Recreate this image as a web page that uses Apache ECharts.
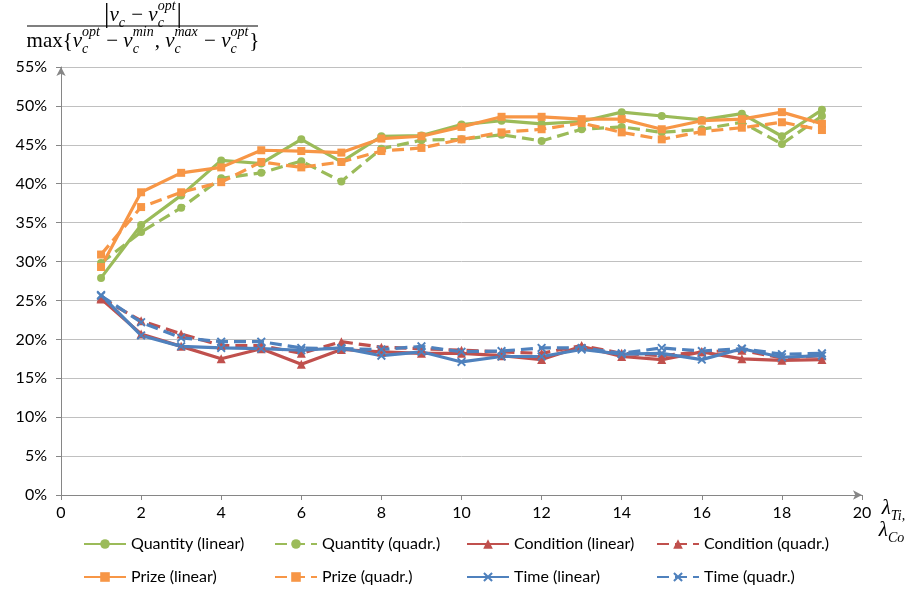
<!DOCTYPE html>
<html>
<head>
<meta charset="utf-8">
<script src="https://cdn.jsdelivr.net/npm/echarts@6/dist/echarts.min.js"></script>
<style>
  html, body { margin: 0; padding: 0; background: #fff; }
  #chart { width: 910px; height: 594px; }
</style>
</head>
<body>
<div id="chart"></div>
<script>
// lambda values on the x axis
let lambdas = [1, 2, 3, 4, 5, 6, 7, 8, 9, 10, 11, 12, 13, 14, 15, 16, 17, 18, 19];

// values in percent
let quantityLinear = [27.9, 34.7, 38.5, 43.0, 42.6, 45.7, 42.8, 46.1, 46.2, 47.6, 48.1, 47.7, 48.0, 49.2, 48.7, 48.2, 49.0, 46.1, 49.5];
let quantityQuadr  = [29.8, 33.8, 36.9, 40.7, 41.4, 42.9, 40.3, 44.5, 45.6, 45.7, 46.3, 45.5, 47.0, 47.3, 46.6, 47.0, 47.9, 45.1, 48.7];
let conditionLinear = [25.2, 20.7, 19.1, 17.5, 18.8, 16.8, 18.7, 18.4, 18.2, 18.2, 17.9, 17.4, 19.1, 17.8, 17.4, 18.4, 17.5, 17.3, 17.4];
let conditionQuadr  = [25.3, 22.4, 20.7, 19.2, 19.2, 18.2, 19.7, 19.0, 18.8, 18.6, 18.4, 18.2, 19.2, 18.2, 17.9, 18.4, 18.6, 17.6, 17.9];
let prizeLinear = [29.3, 38.9, 41.4, 42.1, 44.3, 44.2, 44.0, 45.8, 46.1, 47.3, 48.6, 48.6, 48.3, 48.3, 47.0, 48.1, 48.3, 49.2, 47.7];
let prizeQuadr  = [30.9, 37.0, 38.9, 40.2, 42.8, 42.1, 42.8, 44.2, 44.6, 45.7, 46.6, 47.0, 47.8, 46.6, 45.7, 46.7, 47.2, 47.9, 46.9];
let timeLinear = [25.7, 20.5, 19.1, 18.9, 18.8, 18.6, 18.9, 17.9, 18.4, 17.1, 17.8, 17.8, 18.7, 18.1, 18.2, 17.4, 18.8, 17.7, 17.9];
let timeQuadr  = [25.6, 22.2, 20.2, 19.7, 19.7, 18.9, 18.8, 18.7, 19.1, 18.4, 18.5, 18.9, 18.9, 18.2, 18.9, 18.5, 18.8, 18.1, 18.2];

const GREEN = '#9BBB59';
const RED = '#C0504D';
const ORANGE = '#F79646';
const BLUE = '#4F81BD';
const CROSS = 'path://M0,1.5 L1.5,0 L5,3.5 L8.5,0 L10,1.5 L6.5,5 L10,8.5 L8.5,10 L5,6.5 L1.5,10 L0,8.5 L3.5,5 Z';

function pairs(values) {
    return lambdas.map((x, i) => [x, values[i]]);
}

function makeSeries(name, values, color, symbol, dashed) {
    return {
        name: name,
        type: 'line',
        data: pairs(values),
        symbol: symbol,
        symbolSize: symbol === CROSS ? 9 : (symbol === 'triangle' ? 9 : 8),
        showSymbol: true,
        animation: false,
        itemStyle: { color: color },
        lineStyle: { color: color, width: 3.2, type: dashed ? [12, 6] : 'solid' },
        emphasis: { disabled: true }
    };
}

// small helper to set formula text (base glyphs plus stacked super/subscripts)
let measureCtx = document.createElement('canvas').getContext('2d');
const SERIF = '"Liberation Serif", "DejaVu Serif", serif';
function textWidth(t, font) {
    measureCtx.font = font;
    return measureCtx.measureText(t).width;
}
function formula(tokens, cx, cy, baseSize, scriptSize) {
    let baseItalic = 'italic ' + baseSize + 'px ' + SERIF;
    let baseNormal = baseSize + 'px ' + SERIF;
    let scriptFont = 'italic ' + scriptSize + 'px ' + SERIF;
    let items = [];
    let x = 0;
    for (let tk of tokens) {
        if (tk[0] === 'i' || tk[0] === 'n') {
            let font = tk[0] === 'i' ? baseItalic : baseNormal;
            if (tk[2]) font = tk[2] + 'px ' + SERIF;
            items.push({ t: tk[1], x: x, dy: 0, font: font });
            x += textWidth(tk[1], font);
        } else {
            // tk = ['s', sup, sub]
            let w = 0;
            if (tk[1]) {
                items.push({ t: tk[1], x: x, dy: -baseSize * 0.42, font: scriptFont });
                w = Math.max(w, textWidth(tk[1], scriptFont));
            }
            if (tk[2]) {
                items.push({ t: tk[2], x: x, dy: baseSize * 0.38, font: scriptFont });
                w = Math.max(w, textWidth(tk[2], scriptFont));
            }
            x += w + 1;
        }
    }
    let left = cx - x / 2;
    return items.map(it => ({
        type: 'text',
        silent: true,
        x: left + it.x,
        y: cy + it.dy,
        style: { text: it.t, font: it.font, fill: '#000', verticalAlign: 'middle', align: 'left' }
    }));
}

let numerator = formula([
    ['n', '|', 27], ['i', 'ν'], ['s', '', 'c'], ['n', ' − '], ['i', 'ν'], ['s', 'opt', 'c'], ['n', '|', 27]
], 143, 15, 21, 14);
let denominator = formula([
    ['n', 'max{'], ['i', 'ν'], ['s', 'opt', 'c'], ['n', ' − '], ['i', 'ν'], ['s', 'min', 'c'], ['n', ', '],
    ['i', 'ν'], ['s', 'max', 'c'], ['n', ' − '], ['i', 'ν'], ['s', 'opt', 'c'], ['n', '}']
], 143, 41, 21, 14);
let xName1 = formula([['i', 'λ'], ['s', '', 'Ti,']], 894, 508, 21, 14);
let xName2 = formula([['i', 'λ'], ['s', '', 'Co']], 892, 530, 21, 14);

let graphics = [].concat(numerator, denominator, xName1, xName2);
graphics.push({
    type: 'line', silent: true,
    shape: { x1: 27, y1: 26, x2: 258, y2: 26 },
    style: { stroke: '#000', lineWidth: 1.2 }
});

let legendText = { fontFamily: 'Lato, "Open Sans", sans-serif', fontSize: 16, color: '#000' };
function legendCol(names, left) {
    return {
        orient: 'vertical', left: left, top: 536,
        itemWidth: 42, itemHeight: 12, itemGap: 17,
        padding: 0,
        textStyle: legendText,
        selectedMode: false,
        data: names
    };
}

let option = {
    backgroundColor: '#fff',
    animation: false,
    grid: { left: 61, right: 48, top: 67, bottom: 99, outerBoundsMode: 'none' },
    legend: [
        legendCol(['Quantity (linear)', 'Prize (linear)'], 83),
        legendCol(['Quantity (quadr.)', 'Prize (quadr.)'], 274),
        legendCol(['Condition (linear)', 'Time (linear)'], 466),
        legendCol(['Condition (quadr.)', 'Time (quadr.)'], 656)
    ],
    xAxis: {
        type: 'value', min: 0, max: 20, interval: 2,
        axisLine: { show: true, lineStyle: { color: '#868686', width: 1 }, symbol: ['none', 'arrow'], symbolSize: [7, 9] },
        axisTick: { show: true, length: 5, lineStyle: { color: '#868686' } },
        axisLabel: { margin: 10, fontFamily: 'Lato, "Open Sans", sans-serif', fontSize: 16, color: '#000' },
        splitLine: { show: false }
    },
    yAxis: {
        type: 'value', min: 0, max: 55, interval: 5,
        axisLine: { show: true, lineStyle: { color: '#868686', width: 1 }, symbol: ['none', 'arrow'], symbolSize: [7, 9] },
        axisTick: { show: true, length: 5, lineStyle: { color: '#868686' } },
        axisLabel: { margin: 14, formatter: '{value}%', fontFamily: 'Lato, "Open Sans", sans-serif', fontSize: 16, color: '#000' },
        splitLine: { show: true, lineStyle: { color: '#C0C0C0', width: 1 } }
    },
    graphic: graphics,
    series: [
        makeSeries('Quantity (linear)', quantityLinear, GREEN, 'circle', false),
        makeSeries('Quantity (quadr.)', quantityQuadr, GREEN, 'circle', true),
        makeSeries('Condition (linear)', conditionLinear, RED, 'triangle', false),
        makeSeries('Condition (quadr.)', conditionQuadr, RED, 'triangle', true),
        makeSeries('Prize (linear)', prizeLinear, ORANGE, 'rect', false),
        makeSeries('Prize (quadr.)', prizeQuadr, ORANGE, 'rect', true),
        makeSeries('Time (linear)', timeLinear, BLUE, CROSS, false),
        makeSeries('Time (quadr.)', timeQuadr, BLUE, CROSS, true)
    ]
};

let chart = echarts.init(document.getElementById('chart'));
chart.setOption(option);
</script>
</body>
</html>
